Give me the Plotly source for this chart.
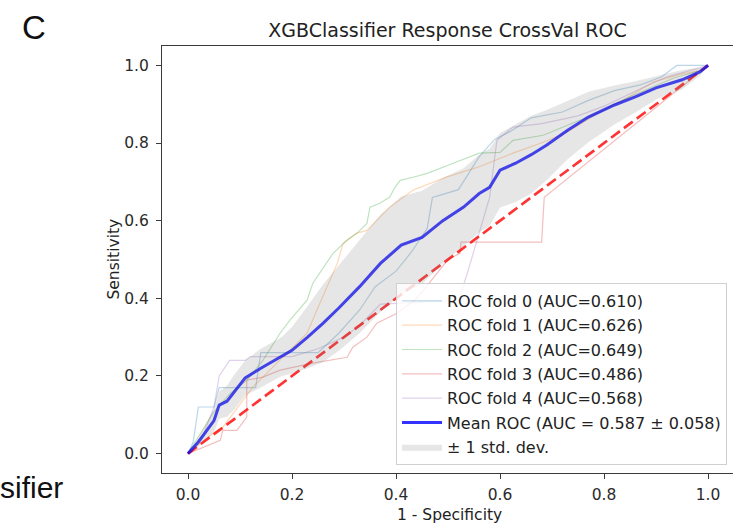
import plotly.graph_objects as go

# ---------------- data ----------------
fold_names = ["ROC fold 0 (AUC=0.610)", "ROC fold 1 (AUC=0.626)", "ROC fold 2 (AUC=0.649)",
              "ROC fold 3 (AUC=0.486)", "ROC fold 4 (AUC=0.568)"]
fold_colors = ["rgba(31,119,180,0.3)", "rgba(255,127,14,0.3)", "rgba(44,160,44,0.3)",
               "rgba(214,39,40,0.3)", "rgba(148,103,189,0.3)"]

fpr0 = [0, 0.01, 0.02, 0.05, 0.06, 0.13, 0.14, 0.25, 0.29, 0.33, 0.36, 0.40, 0.43, 0.46, 0.47, 0.52,
        0.56, 0.59, 0.62, 0.66, 0.72, 0.77, 0.82, 0.87, 0.91, 0.94, 1.0]
tpr0 = [0, 0.03, 0.12, 0.12, 0.17, 0.17, 0.26, 0.26, 0.31, 0.37, 0.43, 0.47, 0.52, 0.58, 0.66, 0.68,
        0.765, 0.81, 0.83, 0.865, 0.88, 0.91, 0.935, 0.95, 0.97, 1.0, 1.0]

fpr1 = [0, 0.048, 0.067, 0.087, 0.106, 0.125, 0.144, 0.177, 0.196, 0.229, 0.248, 0.267, 0.287, 0.298,
        0.325, 0.344, 0.388, 0.433, 0.498, 0.56, 0.625, 0.683, 0.729, 0.792, 0.844, 0.894, 0.946, 0.985, 1.0]
tpr1 = [0, 0.052, 0.068, 0.104, 0.138, 0.172, 0.197, 0.24, 0.266, 0.31, 0.37, 0.429, 0.49, 0.541,
        0.568, 0.575, 0.635, 0.679, 0.713, 0.739, 0.774, 0.802, 0.828, 0.88, 0.916, 0.957, 0.977, 0.987, 1.0]

fpr2 = [0, 0.048, 0.081, 0.113, 0.144, 0.177, 0.196, 0.229, 0.24, 0.26, 0.279, 0.306, 0.325, 0.344,
        0.35, 0.369, 0.388, 0.398, 0.408, 0.433, 0.46, 0.51, 0.56, 0.6, 0.625, 0.683, 0.729, 0.792,
        0.844, 0.888, 0.933, 0.985, 1.0]
tpr2 = [0, 0.104, 0.155, 0.189, 0.24, 0.31, 0.344, 0.395, 0.439, 0.48, 0.516, 0.55, 0.568, 0.593,
        0.635, 0.645, 0.661, 0.686, 0.704, 0.712, 0.722, 0.748, 0.774, 0.776, 0.807, 0.82, 0.846, 0.88,
        0.916, 0.942, 0.967, 0.987, 1.0]

fpr3 = [0, 0.062, 0.067, 0.094, 0.113, 0.113, 0.144, 0.177, 0.24, 0.306, 0.317, 0.344, 0.363, 0.40,
        0.44, 0.47, 0.50, 0.523, 0.525, 0.68, 0.685, 1.0]
tpr3 = [0, 0.034, 0.06, 0.06, 0.094, 0.189, 0.197, 0.215, 0.233, 0.248, 0.274, 0.30, 0.336, 0.36,
        0.40, 0.45, 0.50, 0.516, 0.545, 0.545, 0.66, 1.0]

fpr4 = [0, 0.03, 0.05, 0.06, 0.08, 0.11, 0.12, 0.20, 0.25, 0.30, 0.33, 0.37, 0.45, 0.52, 0.537, 0.56,
        0.58, 0.594, 0.625, 0.68, 0.75, 0.80, 0.87, 0.92, 1.0]
tpr4 = [0, 0.05, 0.12, 0.20, 0.24, 0.24, 0.25, 0.25, 0.27, 0.30, 0.33, 0.385, 0.39, 0.395, 0.464, 0.567,
        0.66, 0.807, 0.841, 0.85, 0.87, 0.895, 0.94, 0.97, 1.0]

fold_fpr = [fpr0, fpr1, fpr2, fpr3, fpr4]
fold_tpr = [tpr0, tpr1, tpr2, tpr3, tpr4]

mean_fpr = [0, 0.02, 0.05, 0.06, 0.075, 0.09, 0.11, 0.14, 0.18, 0.2, 0.23, 0.26, 0.29, 0.33, 0.37,
            0.41, 0.45, 0.49, 0.53, 0.56, 0.58, 0.6, 0.63, 0.66, 0.69, 0.73, 0.77, 0.82, 0.86, 0.9,
            0.95, 0.985, 1.0]
mean_tpr = [0, 0.03, 0.085, 0.125, 0.135, 0.16, 0.195, 0.22, 0.25, 0.266, 0.30, 0.336, 0.375, 0.43,
            0.49, 0.537, 0.557, 0.60, 0.635, 0.67, 0.686, 0.73, 0.748, 0.77, 0.795, 0.833, 0.867,
            0.898, 0.919, 0.942, 0.963, 0.984, 1.0]
std_tpr = [0, 0.01, 0.03, 0.035, 0.04, 0.045, 0.045, 0.05, 0.05, 0.06, 0.08, 0.10, 0.11, 0.12, 0.125,
           0.125, 0.12, 0.11, 0.10, 0.10, 0.10, 0.096, 0.10, 0.10, 0.09, 0.075, 0.065, 0.05, 0.04,
           0.03, 0.025, 0.01, 0]

chance_x = [0, 1]
chance_y = [0, 1]

mean_label = "Mean ROC (AUC = 0.587 ± 0.058)"
std_label = "± 1 std. dev."
title_text = "XGBClassifier Response CrossVal ROC"
xlabel = "1 - Specificity"
ylabel = "Sensitivity"
tick_vals = [0.0, 0.2, 0.4, 0.6, 0.8, 1.0]

upper = [min(m + s, 1.0) for m, s in zip(mean_tpr, std_tpr)]
lower = [max(m - s, 0.0) for m, s in zip(mean_tpr, std_tpr)]

# ---------------- figure ----------------
FONT = "DejaVu Sans"
fig = go.Figure()

for i in range(5):
    fig.add_trace(go.Scatter(x=fold_fpr[i], y=fold_tpr[i], mode="lines", name=fold_names[i],
                             line=dict(color=fold_colors[i], width=1.2), legendgroup=f"g{i}"))

fig.add_trace(go.Scatter(x=chance_x, y=chance_y, mode="lines", showlegend=False,
                         line=dict(color="rgba(255,0,0,0.8)", width=2.7, dash="11px,5px")))

fig.add_trace(go.Scatter(x=mean_fpr, y=mean_tpr, mode="lines", name=mean_label,
                         line=dict(color="rgba(0,0,255,0.8)", width=3), legendgroup="gm"))

fig.add_trace(go.Scatter(x=mean_fpr, y=upper, mode="lines", line=dict(width=0),
                         showlegend=False, legendgroup="gs", hoverinfo="skip"))
fig.add_trace(go.Scatter(x=mean_fpr, y=lower, mode="lines", line=dict(width=0),
                         fill="tonexty", fillcolor="rgba(128,128,128,0.2)",
                         name=std_label, legendgroup="gs"))

axis_common = dict(showgrid=False, zeroline=False, showline=True, linecolor="#3a3a3a", linewidth=1.2,
                   ticks="outside", ticklen=5, tickwidth=1.1, tickcolor="#3a3a3a",
                   tickvals=tick_vals, tickformat=".1f",
                   tickfont=dict(family=FONT, size=15.5, color="#2a2a2a"))

fig.update_layout(
    width=733, height=527,
    margin=dict(l=162, r=0, t=46, b=54, pad=0),
    paper_bgcolor="white", plot_bgcolor="white",
    title=dict(text=title_text, x=0.5, xref="paper", y=1 - 30 / 527, yref="container",
               xanchor="center", yanchor="middle",
               font=dict(family=FONT, size=19, color="#222")),
    xaxis=dict(range=[-0.05, 1.048], mirror=True, ticklabelstandoff=2, **axis_common),
    yaxis=dict(range=[-0.05, 1.05], ticklabelstandoff=4, **axis_common),
    legend=dict(x=0.9895, xanchor="right", y=0.0187, yanchor="bottom",
                bgcolor="rgba(255,255,255,0.8)", bordercolor="#d0d0d0", borderwidth=1,
                font=dict(family=FONT, size=16, color="#222"), itemwidth=40,
                traceorder="grouped", tracegroupgap=0.5),
    showlegend=True,
    annotations=[
        dict(text=ylabel, x=(113 - 162) / 571, y=0.5, xref="paper", yref="paper", textangle=-90,
             showarrow=False, xanchor="center", yanchor="middle",
             font=dict(family=FONT, size=15.5, color="#222")),
        dict(text=xlabel, x=(449 - 162) / 571, y=(473 - 515) / 427, xref="paper", yref="paper",
             showarrow=False, xanchor="center", yanchor="middle",
             font=dict(family=FONT, size=15.5, color="#222")),
        dict(text="C", x=(34 - 162) / 571, y=1 + (46 - 28) / 427, xref="paper", yref="paper",
             showarrow=False, xanchor="center", yanchor="middle",
             font=dict(family="Liberation Sans", size=33, color="#111")),
        dict(text="sifier", x=(-2 - 162) / 571, y=(473 - 487) / 427, xref="paper", yref="paper",
             showarrow=False, xanchor="left", yanchor="middle",
             font=dict(family="Liberation Sans", size=30, color="#111")),
    ],
)

fig.write_html("out.html")
